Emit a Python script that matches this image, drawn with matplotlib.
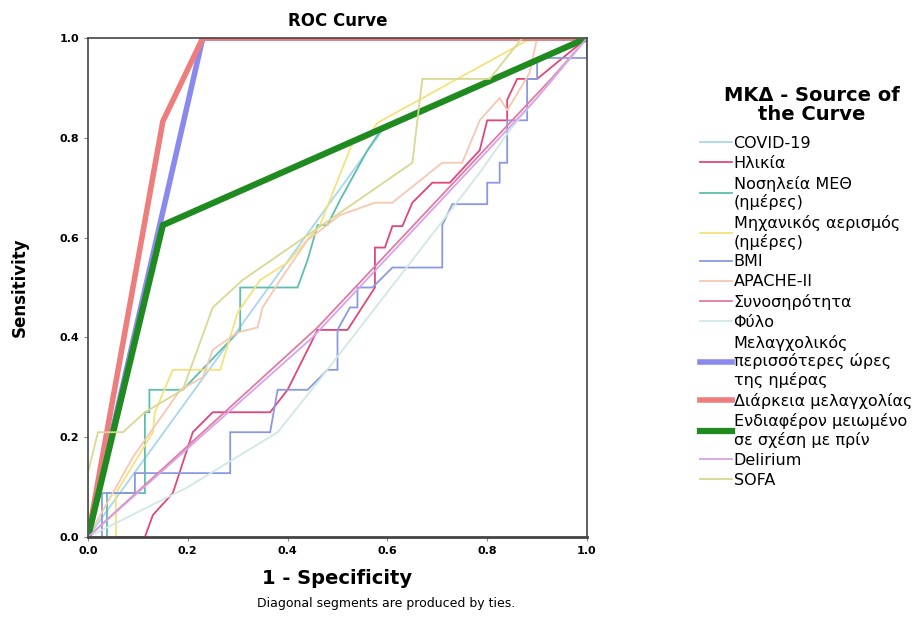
import matplotlib
matplotlib.use("Agg")
import matplotlib.pyplot as plt

plt.rcParams["font.family"] = ["DejaVu Sans"]

# ROC curves: (1 - specificity, sensitivity)
covid_x = [0, 0.59, 1]
covid_y = [0, 0.815, 1]

ilikia_x = [0, 0.114, 0.13, 0.17, 0.21, 0.25, 0.365, 0.40, 0.46, 0.52, 0.575, 0.575, 0.595, 0.61, 0.63, 0.65, 0.69, 0.725, 0.785, 0.80, 0.84, 0.84, 0.86, 0.90, 1]
ilikia_y = [0, 0, 0.044, 0.088, 0.21, 0.25, 0.25, 0.295, 0.415, 0.415, 0.50, 0.58, 0.58, 0.623, 0.623, 0.67, 0.71, 0.71, 0.775, 0.835, 0.835, 0.876, 0.918, 0.918, 1]

meth_x = [0, 0.038, 0.038, 0.114, 0.114, 0.123, 0.123, 0.19, 0.305, 0.305, 0.42, 0.44, 0.46, 0.48, 0.505, 0.56, 0.59, 1]
meth_y = [0, 0, 0.088, 0.088, 0.25, 0.25, 0.295, 0.295, 0.415, 0.50, 0.50, 0.555, 0.625, 0.625, 0.675, 0.775, 0.82, 1]

mech_x = [0, 0.056, 0.056, 0.13, 0.134, 0.17, 0.265, 0.30, 0.345, 0.40, 0.465, 0.53, 0.56, 0.58, 0.88, 1]
mech_y = [0, 0, 0.088, 0.21, 0.25, 0.335, 0.335, 0.45, 0.515, 0.55, 0.625, 0.79, 0.80, 0.83, 0.995, 1]

bmi_x = [0, 0.028, 0.028, 0.094, 0.094, 0.285, 0.285, 0.365, 0.38, 0.44, 0.48, 0.50, 0.50, 0.525, 0.54, 0.54, 0.57, 0.61, 0.71, 0.71, 0.73, 0.80, 0.80, 0.825, 0.825, 0.84, 0.84, 0.88, 0.88, 0.90, 0.90, 1, 1]
bmi_y = [0, 0, 0.088, 0.088, 0.128, 0.128, 0.21, 0.21, 0.295, 0.295, 0.335, 0.335, 0.415, 0.46, 0.46, 0.50, 0.50, 0.54, 0.54, 0.625, 0.667, 0.667, 0.71, 0.71, 0.75, 0.75, 0.835, 0.835, 0.918, 0.918, 0.96, 0.96, 1]

apache_x = [0, 0.09, 0.185, 0.23, 0.25, 0.30, 0.34, 0.35, 0.385, 0.44, 0.505, 0.575, 0.61, 0.71, 0.75, 0.785, 0.825, 0.84, 0.885, 0.90, 1]
apache_y = [0, 0.16, 0.295, 0.32, 0.375, 0.41, 0.42, 0.46, 0.515, 0.595, 0.645, 0.67, 0.67, 0.75, 0.75, 0.835, 0.88, 0.855, 0.93, 1.0, 1]

synos_x = [0, 0.46, 0.93, 1]
synos_y = [0, 0.42, 0.92, 1]

fylo_x = [0, 0.2, 0.38, 0.46, 0.65, 0.785, 0.845, 1]
fylo_y = [0, 0.1, 0.21, 0.31, 0.555, 0.73, 0.815, 1]

melag_x = [0, 0.23, 1]
melag_y = [0, 1, 1]

diark_x = [0, 0.15, 0.23, 1]
diark_y = [0, 0.833, 1, 1]

endiaf_x = [0, 0.15, 1]
endiaf_y = [0, 0.625, 1]

delir_x = [0, 0.45, 0.9, 1]
delir_y = [0, 0.40, 0.88, 1]

sofa_x = [0, 0, 0.02, 0.07, 0.114, 0.19, 0.25, 0.31, 0.65, 0.67, 0.805, 0.87, 1]
sofa_y = [0, 0.13, 0.21, 0.21, 0.25, 0.295, 0.46, 0.515, 0.75, 0.918, 0.918, 1.0, 1]

curves = [
    ("COVID-19", covid_x, covid_y, "#a9d6ee", 1.3),
    ("Ηλικία", ilikia_x, ilikia_y, "#e0467c", 1.3),
    ("Νοσηλεία ΜΕΘ\n(ημέρες)", meth_x, meth_y, "#5cbfae", 1.3),
    ("Μηχανικός αερισμός\n(ημέρες)", mech_x, mech_y, "#f5e27a", 1.3),
    ("BMI", bmi_x, bmi_y, "#8a9ae0", 1.3),
    ("APACHE-II", apache_x, apache_y, "#f6c8b2", 1.3),
    ("Συνοσηρότητα", synos_x, synos_y, "#e27aa0", 1.3),
    ("Φύλο", fylo_x, fylo_y, "#cfe8e4", 1.3),
    ("Μελαγχολικός\nπερισσότερες ώρες\nτης ημέρας", melag_x, melag_y, "#8a8aee", 4),
    ("Διάρκεια μελαγχολίας", diark_x, diark_y, "#ee7d7d", 4),
    ("Ενδιαφέρον μειωμένο\nσε σχέση με πρίν", endiaf_x, endiaf_y, "#1f8a1f", 4.5),
    ("Delirium", delir_x, delir_y, "#d9a2ec", 1.3),
    ("SOFA", sofa_x, sofa_y, "#d9d892", 1.3),
]

fig = plt.figure(figsize=(9.23, 6.37), dpi=100)
ax = fig.add_axes([88 / 923, 100 / 637, 499 / 923, 499 / 637])

for label, xs, ys, color, lw in curves:
    ax.plot(xs, ys, color=color, linewidth=lw, label=label, solid_joinstyle="miter")

ax.set_xlim(0, 1)
ax.set_ylim(0, 1)
ax.set_xticks([0, 0.2, 0.4, 0.6, 0.8, 1.0])
ax.set_yticks([0, 0.2, 0.4, 0.6, 0.8, 1.0])
ax.set_xticklabels(["0.0", "0.2", "0.4", "0.6", "0.8", "1.0"], fontweight="bold", fontsize=8)
ax.set_yticklabels(["0.0", "0.2", "0.4", "0.6", "0.8", "1.0"], fontweight="bold", fontsize=8)
ax.tick_params(direction="out", length=3, color="#888888", width=0.8)
for side in ["top", "right", "left"]:
    ax.spines[side].set_color("#444444")
    ax.spines[side].set_linewidth(1.2)
ax.spines["bottom"].set_color("#444444")
ax.spines["bottom"].set_linewidth(2)

ax.set_title("ROC Curve", fontweight="bold", fontsize=12, pad=9)
ax.set_xlabel("1 - Specificity", fontweight="bold", fontsize=14, labelpad=9)
ax.set_ylabel("Sensitivity", fontweight="bold", fontsize=12, labelpad=22)

fig.text(386 / 923, 1 - 603 / 637, "Diagonal segments are produced by ties.",
         ha="center", va="center", fontsize=9)

# legend title drawn apart so the gap under it can match
fig.text(812 / 923, 1 - 105 / 637, "ΜΚΔ - Source of\nthe Curve", ha="center", va="center",
         fontsize=14, fontweight="bold", linespacing=1.0)

leg = fig.legend(loc="upper left", bbox_to_anchor=(700 / 923, 1 - 136 / 637),
                 frameon=False, fontsize=11.5, labelspacing=0.3, handlelength=2.0,
                 handletextpad=0.1, borderaxespad=0, borderpad=0)

fig.savefig("out.png", dpi=100)
